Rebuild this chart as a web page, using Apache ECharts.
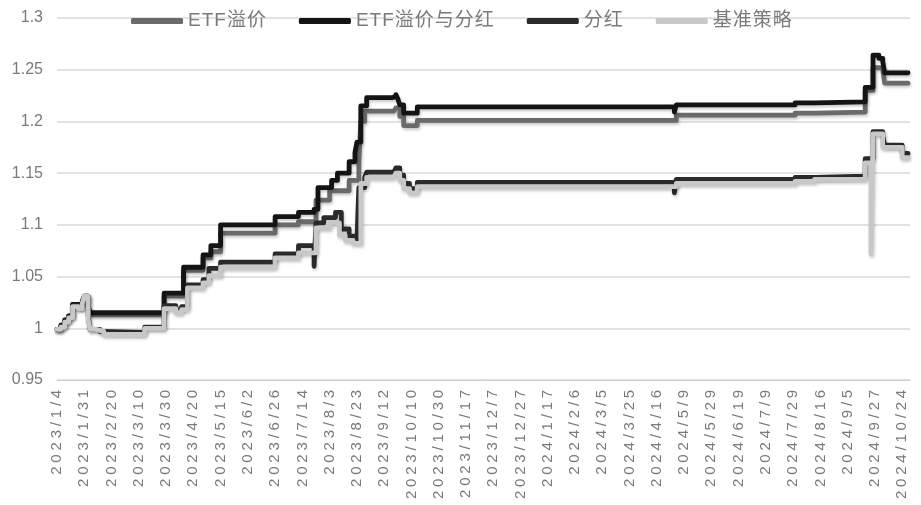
<!DOCTYPE html>
<html>
<head>
<meta charset="utf-8">
<script src="https://cdn.jsdelivr.net/npm/echarts@6/dist/echarts.min.js"></script>
<style>
html,body{margin:0;padding:0;background:#fff;}
#chart{width:921px;height:505px;}
</style>
</head>
<body>
<div id="chart"></div>
<script>
// Tick labels (one every 14 trading days, starting at trading day 0)
const xLabels = ['2023/1/4','2023/1/31','2023/2/20','2023/3/10','2023/3/30','2023/4/20','2023/5/15','2023/6/2','2023/6/26','2023/7/14','2023/8/3','2023/8/23','2023/9/12','2023/10/10','2023/10/30','2023/11/17','2023/12/7','2023/12/27','2024/1/17','2024/2/6','2024/3/5','2024/3/25','2024/4/16','2024/5/9','2024/5/29','2024/6/19','2024/7/9','2024/7/29','2024/8/16','2024/9/5','2024/9/27','2024/10/24'];

const seriesNames = ['ETF溢价','ETF溢价与分红','分红','基准策略'];

// [trading-day index, net value] – value holds from that day until the next entry
const etfPremium = [[0,0.999],[2,1.003],[4,1.008],[6,1.012],[8,1.023],[11,1.021],[13,1.026],[14,1.031],[16,1.021],[17,1.013],[55,1.031],[65,1.056],[75,1.068],[79,1.074],[84,1.092],[112,1.100],[124,1.103],[133,1.124],[140,1.133],[150,1.143],[155,1.160],[156,1.200],[158,1.210],[173,1.211],[174,1.213],[176,1.205],[178,1.196],[185,1.201],[318,1.206],[379,1.208],[389,1.209],[415,1.230],[419,1.252],[424,1.250],[425,1.237],[437,1.237]];

const etfPremiumDividend = [[0,0.999],[2,1.003],[4,1.008],[6,1.012],[8,1.023],[11,1.021],[13,1.026],[14,1.031],[16,1.021],[17,1.015],[55,1.034],[65,1.059],[75,1.071],[79,1.080],[84,1.100],[112,1.108],[124,1.112],[132,1.115],[134,1.136],[141,1.143],[144,1.150],[150,1.161],[153,1.170],[154,1.180],[156,1.215],[159,1.223],[172,1.224],[174,1.226],[175,1.222],[176,1.216],[178,1.208],[185,1.214],[317,1.209],[318,1.216],[379,1.218],[389,1.219],[415,1.233],[419,1.264],[422,1.261],[424,1.258],[425,1.247],[437,1.247]];

const dividend = [[0,0.999],[2,1.002],[4,1.007],[6,1.011],[8,1.022],[11,1.020],[13,1.025],[14,1.030],[16,1.012],[17,0.999],[22,0.997],[24,0.996],[45,1.001],[55,1.022],[61,1.018],[64,1.021],[67,1.042],[75,1.047],[78,1.058],[84,1.064],[112,1.072],[124,1.080],[132,1.060],[133,1.102],[137,1.107],[143,1.112],[146,1.096],[150,1.089],[154,1.086],[155,1.136],[158,1.146],[159,1.151],[173,1.152],[174,1.155],[176,1.148],[178,1.140],[181,1.135],[185,1.141],[317,1.131],[318,1.144],[379,1.146],[389,1.147],[415,1.164],[419,1.190],[424,1.186],[425,1.177],[434,1.169],[437,1.169]];

const benchmark = [[0,0.999],[2,1.001],[4,1.006],[6,1.010],[8,1.021],[11,1.019],[13,1.024],[14,1.031],[16,1.008],[17,0.999],[20,0.998],[22,0.997],[24,0.994],[45,1.000],[55,1.019],[61,1.015],[64,1.018],[67,1.039],[75,1.044],[78,1.051],[84,1.059],[112,1.068],[124,1.073],[133,1.097],[140,1.102],[145,1.090],[148,1.085],[152,1.082],[156,1.140],[159,1.146],[173,1.147],[174,1.150],[176,1.143],[178,1.135],[181,1.131],[185,1.137],[318,1.140],[379,1.142],[389,1.144],[415,1.160],[418,1.072],[419,1.188],[424,1.175],[434,1.165],[437,1.165]];

const colors = ['#6a6a6a','#141414','#2a2a2a','#c8c8c8'];

// letter spacing for the widely spaced axis / legend text of the original
(function(){
  const proto = CanvasRenderingContext2D.prototype;
  if (!('letterSpacing' in proto)) return;
  function ls(font){
    if (/(^|\s)15px/.test(font)) return '3.8px';
    if (/(^|\s)19px/.test(font)) return '1px';
    return '0px';
  }
  const of = proto.fillText, om = proto.measureText;
  proto.fillText = function(t,x,y,w){
    const p = this.letterSpacing; this.letterSpacing = ls(this.font);
    const r = w === undefined ? of.call(this,t,x,y) : of.call(this,t,x,y,w);
    this.letterSpacing = p; return r;
  };
  proto.measureText = function(t){
    const p = this.letterSpacing; this.letterSpacing = ls(this.font);
    const r = om.call(this,t); this.letterSpacing = p; return r;
  };
})();

const font = "'Liberation Sans','Noto Sans CJK SC',sans-serif";
const dataSets = [etfPremium, etfPremiumDividend, dividend, benchmark];

const chart = echarts.init(document.getElementById('chart'), null, {renderer:'canvas'});
chart.setOption({
  animation: false,
  backgroundColor: '#ffffff',
  legend: {
    data: seriesNames,
    left: 126, top: 6,
    icon: 'roundRect',
    itemWidth: 52, itemHeight: 6, itemGap: 32,
    textStyle: {color:'#7a7a7a', fontSize:19, fontFamily:font}
  },
  grid: {left:57, right:11, top:18, bottom:125, containLabel:false},
  xAxis: {
    type:'value', min:0, max:438, interval:14,
    axisLine:{show:true, lineStyle:{color:'#d0d0d0', width:1}},
    axisTick:{show:false},
    splitLine:{show:false},
    axisLabel:{
      rotate:90, margin:6, color:'#7a7a7a', fontSize:15, fontFamily:font,
      showMaxLabel:false, hideOverlap:false,
      formatter: v => (v % 14 === 0 && xLabels[v/14]) ? xLabels[v/14] : ''
    }
  },
  yAxis: {
    type:'value', min:0.95, max:1.3, interval:0.05,
    axisLine:{show:false}, axisTick:{show:false},
    splitLine:{lineStyle:{color:'#d9d9d9', width:1.5}},
    axisLabel:{color:'#7a7a7a', fontSize:16, fontFamily:font, margin:14}
  },
  series: seriesNames.map((name,i)=>({
    name, type:'line', step:'end', symbol:'none',
    data: dataSets[i],
    itemStyle:{color:colors[i]},
    lineStyle:{color:colors[i], width:4.8, cap:'round', join:'round',
      shadowColor:'rgba(0,0,0,0.22)', shadowBlur:3, shadowOffsetX:1, shadowOffsetY:2},
    z: 2 + i
  }))
});
</script>
</body>
</html>
